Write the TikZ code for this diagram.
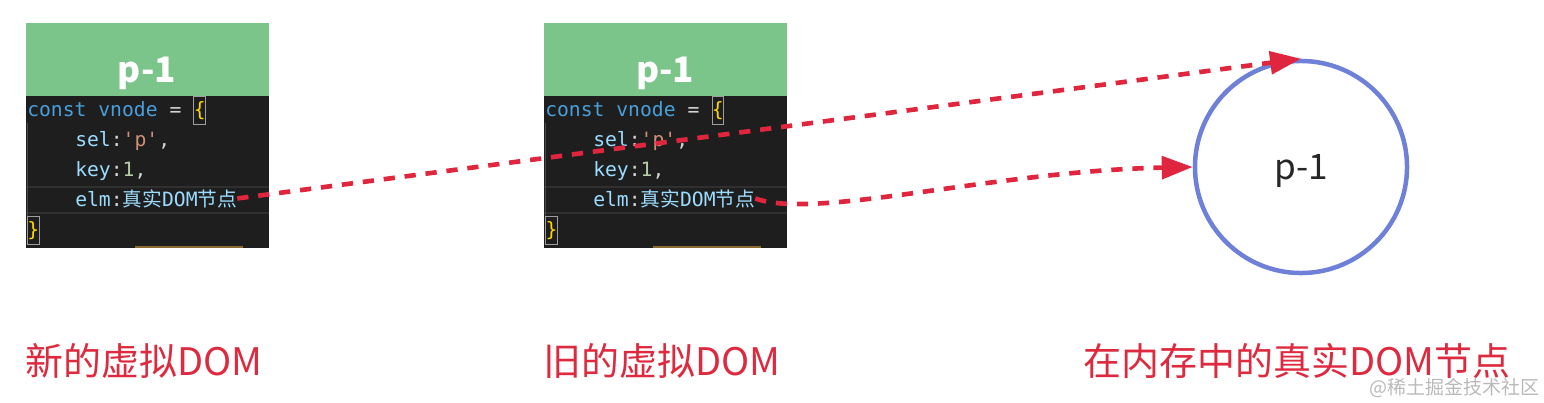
\documentclass[tikz,border=0pt]{standalone}
\usepackage{fontspec}
\setmonofont{DejaVu Sans Mono}
\newfontfamily\cjk{Noto Sans CJK SC}
\usetikzlibrary{arrows.meta,positioning}
\definecolor{hdrgreen}{HTML}{7BC48A}
\definecolor{codebg}{HTML}{1E1E1E}
\definecolor{hlgray}{HTML}{303030}
\definecolor{guidegray}{HTML}{4A4A4A}
\definecolor{kwblue}{HTML}{4A9FDB}
\definecolor{propblue}{HTML}{9CDCFE}
\definecolor{opgray}{HTML}{D4D4D4}
\definecolor{strorange}{HTML}{CE9178}
\definecolor{numgreen}{HTML}{B5CEA8}
\definecolor{braceyellow}{HTML}{FFD700}
\definecolor{barbrown}{HTML}{8B6A2F}
\definecolor{arrowred}{HTML}{E0263E}
\definecolor{ringblue}{HTML}{6E80D8}
\definecolor{labelred}{HTML}{DE2A3F}
\tikzset{
  header/.style = {fill=hdrgreen, anchor=north west, inner sep=0pt, minimum width=6.075cm, minimum height=1.825cm},
  codebody/.style = {fill=codebg, anchor=north west, inner sep=0pt, minimum width=6.075cm, minimum height=3.8cm},
  title/.style = {anchor=base, inner sep=0pt, text=white, font=\cjk\bfseries\fontsize{25}{30}\selectfont},
  codeline/.style = {anchor=base west, inner sep=0pt, text=propblue, font=\ttfamily\fontsize{14}{16}\selectfont},
  bracebox/.style = {codeline, draw=gray!75, line width=0.7pt, minimum width=0.275cm, minimum height=0.7cm, text=braceyellow},
  realdom/.style = {circle, draw=ringblue, line width=3.2pt, minimum size=5.3cm, inner sep=0pt, text depth=0pt, text=black!85, font=\cjk\fontsize{25}{30}\selectfont},
  caption/.style = {anchor=base west, inner sep=0pt, text=labelred, font=\cjk\fontsize{27}{32}\selectfont},
  pointer/.style = {arrowred, line width=3.3pt, dash pattern=on 8pt off 7pt, -{Triangle[length=22pt,width=16pt]}},
}

\begin{document}
\begin{tikzpicture}[x=0.025cm, y=-0.025cm]
  \useasboundingbox (0,0) rectangle (1544,402);
  % the two vnode snippets
  \foreach \bx/\nm in {27/new, 545/old} {
    \node[header] (\nm-head) at (\bx-1,23) {};
    \node[codebody] (\nm-body) at (\bx-1,96) {};
    \node[title] (\nm-title) at (\bx+120,82) {p-1};
    \fill[hlgray] (\bx-1,186) rectangle (\bx+242,188);
    \fill[hlgray] (\bx-1,212) rectangle (\bx+242,214);
    \fill[guidegray] (\bx,123) rectangle (\bx+1,217);
    \fill[barbrown] (\bx+108,246) rectangle (\bx+216,248);
    \node[codeline] (\nm-l1) at (\bx,116)
      {\textcolor{kwblue}{const vnode}\textcolor{opgray}{~=~}};
    \node[bracebox] (\nm-open) at (\nm-l1.base east) {\{};
    \node[codeline] (\nm-sel) at (\bx+48,146)
      {sel\textcolor{opgray}{:}\textcolor{strorange}{\textquotesingle p\textquotesingle}\textcolor{opgray}{,}};
    \node[codeline] (\nm-key) at (\bx+48,176)
      {key\textcolor{opgray}{:}\textcolor{numgreen}{1}\textcolor{opgray}{,}};
    \node[codeline] (\nm-elm) at (\bx+48,206)
      {elm\textcolor{opgray}{:}{\cjk 真实}DOM{\cjk 节点}};
    \node[bracebox] (\nm-close) at (\bx,236) {\}};
  }

  % the real DOM node
  \node[realdom] (dom) at (1301,167) {p-1};

  % captions
  \node[caption] (newcap) at (25,375) {新的虚拟DOM};
  \node[caption] (oldcap) at (543,375) {旧的虚拟DOM};
  \node[caption] (domcap) at (1083,375) {在内存中的真实DOM节点};
  \node[anchor=east, inner sep=0pt, text=gray!55, font=\cjk\fontsize{13.5}{16}\selectfont] (mark) at (1540,388) {@稀土掘金技术社区};

  % elm pointers
  \draw[pointer] (new-elm.east) -- (dom.north);
  \draw[pointer] (old-elm.east) .. controls +(60,22) and +(-200,4) .. (dom.west);
\end{tikzpicture}
\end{document}
